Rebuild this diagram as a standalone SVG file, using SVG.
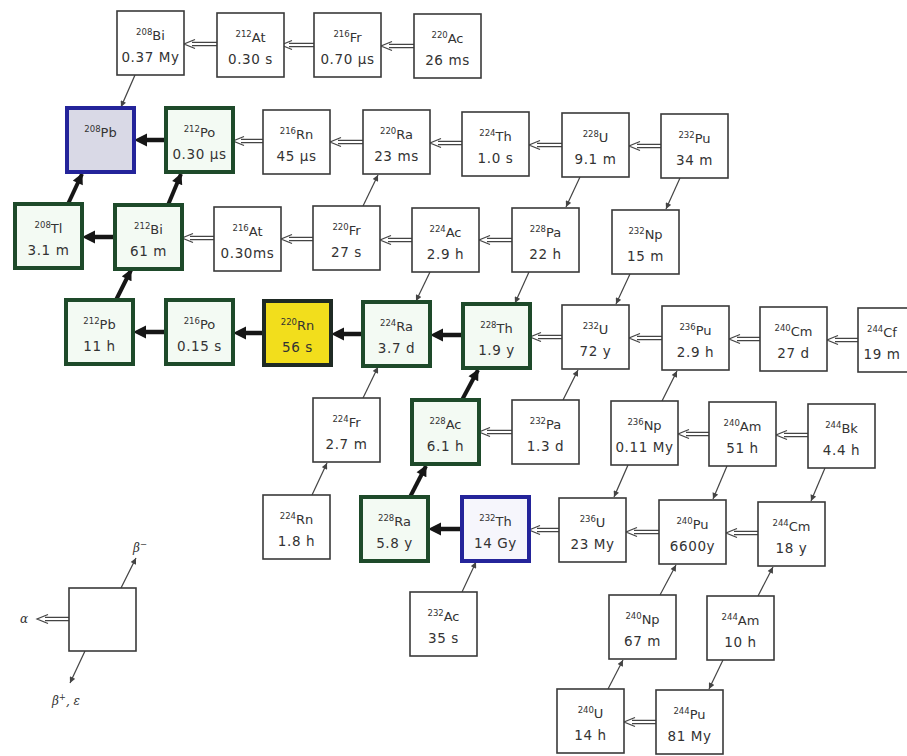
<svg xmlns="http://www.w3.org/2000/svg" width="907" height="756" viewBox="0 0 907 756">
<style>
rect{fill:#fff;stroke:#3a3a3a;stroke-width:1.6}
.g rect{fill:#f3faf3;stroke:#1e4a2a;stroke-width:4}
.b rect{fill:#f6f6fc;stroke:#24249a;stroke-width:4}
.pb rect{fill:#d9d9e6}
.y rect{fill:#f2de1c;stroke:#1f2a24;stroke-width:4}
text{font-family:"DejaVu Sans","Liberation Sans",sans-serif;fill:#333;text-anchor:middle}
.s{font-size:13px}
.h{font-size:13.5px;letter-spacing:0.6px}
.m{font-size:8.5px}
.at{fill:none;stroke:#444;stroke-width:1.2}
.ak{stroke:#161616;stroke-width:4.5}
.akh{fill:#161616}
.bt{stroke:#444;stroke-width:1.2;marker-end:url(#hb)}
.bk{stroke:#161616;stroke-width:4;marker-end:url(#hk)}
.lg{font-size:12px;font-family:"DejaVu Serif",serif;font-style:italic}
</style>
<defs>
<marker id="hb" viewBox="0 0 10 10" refX="10" refY="5" markerWidth="8" markerHeight="6" markerUnits="userSpaceOnUse" orient="auto"><path d="M0 0L10 5L0 10z" fill="#444"/></marker>
<marker id="hk" viewBox="0 0 10 10" refX="9" refY="5" markerWidth="12" markerHeight="11" markerUnits="userSpaceOnUse" orient="auto"><path d="M0 0L10 5L0 10z" fill="#161616"/></marker>
</defs>

<g id="connectors">
<!-- alpha thin -->
<path class="at" d="M217 42.4H192M217 45.6H192M195 39.5L184 44L195 48.5"/>
<path class="at" d="M314 43.4H289M314 46.6H289M292 40.5L281 45L292 49.5"/>
<path class="at" d="M414 44.4H389M414 47.6H389M392 41.5L381 46L392 50.5"/>
<path class="at" d="M263 139.4H241M263 142.6H241M244 136.5L233 141L244 145.5"/>
<path class="at" d="M363 140.4H338M363 143.6H338M341 137.5L330 142L341 146.5"/>
<path class="at" d="M462 141.4H438M462 144.6H438M441 138.5L430 143L441 147.5"/>
<path class="at" d="M562 143.4H537M562 146.6H537M540 140.5L529 145L540 149.5"/>
<path class="at" d="M661 144.4H637M661 147.6H637M640 141.5L629 146L640 150.5"/>
<path class="at" d="M214 236.4H190M214 239.6H190M193 233.5L182 238L193 242.5"/>
<path class="at" d="M313 237.4H289M313 240.6H289M292 234.5L281 239L292 243.5"/>
<path class="at" d="M412 238.4H388M412 241.6H388M391 235.5L380 240L391 244.5"/>
<path class="at" d="M512 238.4H487M512 241.6H487M490 235.5L479 240L490 244.5"/>
<path class="at" d="M562 335.4H538M562 338.6H538M541 332.5L530 337L541 341.5"/>
<path class="at" d="M662 336.4H637M662 339.6H637M640 333.5L629 338L640 342.5"/>
<path class="at" d="M760 337.4H737M760 340.6H737M740 334.5L729 339L740 343.5"/>
<path class="at" d="M858 338.4H835M858 341.6H835M838 335.5L827 340L838 344.5"/>
<path class="at" d="M512 430.4H487M512 433.6H487M490 427.5L479 432L490 436.5"/>
<path class="at" d="M709 432.4H686M709 435.6H686M689 429.5L678 434L689 438.5"/>
<path class="at" d="M808 433.4H784M808 436.6H784M787 430.5L776 435L787 439.5"/>
<path class="at" d="M559 528.4H537M559 531.6H537M540 525.5L529 530L540 534.5"/>
<path class="at" d="M659 530.4H634M659 533.6H634M637 527.5L626 532L637 536.5"/>
<path class="at" d="M758 531.4H734M758 534.6H734M737 528.5L726 533L737 537.5"/>
<path class="at" d="M656 720.4H632M656 723.6H632M635 717.5L624 722L635 726.5"/>
<path class="at" d="M69 617.4H45M69 620.6H45M48 614.5L37 619L48 623.5"/>
<!-- alpha thick -->
<line class="ak" x1="166" y1="140" x2="144" y2="140"/><path class="akh" d="M134 140L147 133.5L147 146.5z"/>
<line class="ak" x1="115" y1="237" x2="92" y2="237"/><path class="akh" d="M82 237L95 230.5L95 243.5z"/>
<line class="ak" x1="166" y1="332" x2="143" y2="332"/><path class="akh" d="M133 332L146 325.5L146 338.5z"/>
<line class="ak" x1="264" y1="333" x2="243" y2="333"/><path class="akh" d="M233 333L246 326.5L246 339.5z"/>
<line class="ak" x1="363" y1="334" x2="341" y2="334"/><path class="akh" d="M331 334L344 327.5L344 340.5z"/>
<line class="ak" x1="463" y1="335" x2="440" y2="335"/><path class="akh" d="M430 335L443 328.5L443 341.5z"/>
<line class="ak" x1="462" y1="529" x2="438" y2="529"/><path class="akh" d="M428 529L441 522.5L441 535.5z"/>
<!-- beta- thick -->
<line class="bk" x1="68" y1="204" x2="82" y2="174"/>
<line class="bk" x1="168" y1="205" x2="181" y2="174"/>
<line class="bk" x1="116" y1="300" x2="131" y2="270"/>
<line class="bk" x1="462" y1="400" x2="478" y2="370"/>
<line class="bk" x1="410" y1="497" x2="426" y2="466"/>
<!-- beta- thin -->
<line class="bt" x1="363" y1="206" x2="378" y2="175"/>
<line class="bt" x1="363" y1="398" x2="378" y2="367"/>
<line class="bt" x1="563" y1="400" x2="578" y2="370"/>
<line class="bt" x1="662" y1="401" x2="677" y2="371"/>
<line class="bt" x1="312" y1="495" x2="327" y2="463"/>
<line class="bt" x1="462" y1="592" x2="476" y2="562"/>
<line class="bt" x1="660" y1="595" x2="676" y2="565"/>
<line class="bt" x1="758" y1="596" x2="773" y2="567"/>
<line class="bt" x1="608" y1="689" x2="623" y2="660"/>
<line class="bt" x1="121" y1="588" x2="136" y2="558"/>
<!-- beta+ / EC -->
<line class="bt" x1="135" y1="75" x2="121" y2="107"/>
<line class="bt" x1="580" y1="177" x2="566" y2="207"/>
<line class="bt" x1="680" y1="178" x2="666" y2="209"/>
<line class="bt" x1="430" y1="272" x2="416" y2="301"/>
<line class="bt" x1="529" y1="272" x2="515" y2="303"/>
<line class="bt" x1="630" y1="274" x2="616" y2="304"/>
<line class="bt" x1="628" y1="465" x2="614" y2="497"/>
<line class="bt" x1="727" y1="466" x2="713" y2="499"/>
<line class="bt" x1="825" y1="468" x2="811" y2="501"/>
<line class="bt" x1="723" y1="660" x2="709" y2="689"/>
<line class="bt" x1="85" y1="651" x2="70" y2="683"/>
</g>

<!-- row 1 -->
<g id="Bi208"><rect x="117" y="11" width="67" height="64"/><text class="s" x="150.5" y="40"><tspan class="m" dy="-5">208</tspan><tspan dy="5">Bi</tspan></text><text class="h" x="150.5" y="62">0.37 My</text></g>
<g id="At212"><rect x="217" y="13" width="67" height="64"/><text class="s" x="250.5" y="42"><tspan class="m" dy="-5">212</tspan><tspan dy="5">At</tspan></text><text class="h" x="250.5" y="64">0.30 s</text></g>
<g id="Fr216"><rect x="314" y="13" width="67" height="64"/><text class="s" x="347.5" y="42"><tspan class="m" dy="-5">216</tspan><tspan dy="5">Fr</tspan></text><text class="h" x="347.5" y="64">0.70 μs</text></g>
<g id="Ac220"><rect x="414" y="14" width="67" height="64"/><text class="s" x="447.5" y="43"><tspan class="m" dy="-5">220</tspan><tspan dy="5">Ac</tspan></text><text class="h" x="447.5" y="65">26 ms</text></g>
<!-- row 2 -->
<g id="Pb208" class="b pb"><rect x="67" y="108" width="67" height="64"/><text class="s" x="100.5" y="137"><tspan class="m" dy="-5">208</tspan><tspan dy="5">Pb</tspan></text></g>
<g id="Po212" class="g"><rect x="166" y="108" width="67" height="64"/><text class="s" x="199.5" y="137"><tspan class="m" dy="-5">212</tspan><tspan dy="5">Po</tspan></text><text class="h" x="199.5" y="159">0.30 μs</text></g>
<g id="Rn216"><rect x="263" y="110" width="67" height="64"/><text class="s" x="296.5" y="139"><tspan class="m" dy="-5">216</tspan><tspan dy="5">Rn</tspan></text><text class="h" x="296.5" y="161">45 μs</text></g>
<g id="Ra220"><rect x="363" y="110" width="67" height="64"/><text class="s" x="396.5" y="139"><tspan class="m" dy="-5">220</tspan><tspan dy="5">Ra</tspan></text><text class="h" x="396.5" y="161">23 ms</text></g>
<g id="Th224"><rect x="462" y="112" width="67" height="64"/><text class="s" x="495.5" y="141"><tspan class="m" dy="-5">224</tspan><tspan dy="5">Th</tspan></text><text class="h" x="495.5" y="163">1.0 s</text></g>
<g id="U228"><rect x="562" y="113" width="67" height="64"/><text class="s" x="595.5" y="142"><tspan class="m" dy="-5">228</tspan><tspan dy="5">U</tspan></text><text class="h" x="595.5" y="164">9.1 m</text></g>
<g id="Pu232a"><rect x="661" y="114" width="67" height="64"/><text class="s" x="694.5" y="143"><tspan class="m" dy="-5">232</tspan><tspan dy="5">Pu</tspan></text><text class="h" x="694.5" y="165">34 m</text></g>
<!-- row 3 -->
<g id="Tl208" class="g"><rect x="15" y="204" width="67" height="64"/><text class="s" x="48.5" y="233"><tspan class="m" dy="-5">208</tspan><tspan dy="5">Tl</tspan></text><text class="h" x="48.5" y="255">3.1 m</text></g>
<g id="Bi212" class="g"><rect x="115" y="205" width="67" height="64"/><text class="s" x="148.5" y="234"><tspan class="m" dy="-5">212</tspan><tspan dy="5">Bi</tspan></text><text class="h" x="148.5" y="256">61 m</text></g>
<g id="At216"><rect x="214" y="207" width="67" height="64"/><text class="s" x="247.5" y="236"><tspan class="m" dy="-5">216</tspan><tspan dy="5">At</tspan></text><text class="h" x="247.5" y="258">0.30ms</text></g>
<g id="Fr220"><rect x="313" y="206" width="67" height="64"/><text class="s" x="346.5" y="235"><tspan class="m" dy="-5">220</tspan><tspan dy="5">Fr</tspan></text><text class="h" x="346.5" y="257">27 s</text></g>
<g id="Ac224"><rect x="412" y="208" width="67" height="64"/><text class="s" x="445.5" y="237"><tspan class="m" dy="-5">224</tspan><tspan dy="5">Ac</tspan></text><text class="h" x="445.5" y="259">2.9 h</text></g>
<g id="Pa228"><rect x="512" y="208" width="67" height="64"/><text class="s" x="545.5" y="237"><tspan class="m" dy="-5">228</tspan><tspan dy="5">Pa</tspan></text><text class="h" x="545.5" y="259">22 h</text></g>
<g id="Np232"><rect x="612" y="210" width="67" height="64"/><text class="s" x="645.5" y="239"><tspan class="m" dy="-5">232</tspan><tspan dy="5">Np</tspan></text><text class="h" x="645.5" y="261">15 m</text></g>
<!-- row 4 -->
<g id="Pb212" class="g"><rect x="66" y="300" width="67" height="64"/><text class="s" x="99.5" y="329"><tspan class="m" dy="-5">212</tspan><tspan dy="5">Pb</tspan></text><text class="h" x="99.5" y="351">11 h</text></g>
<g id="Po216" class="g"><rect x="166" y="300" width="67" height="64"/><text class="s" x="199.5" y="329"><tspan class="m" dy="-5">216</tspan><tspan dy="5">Po</tspan></text><text class="h" x="199.5" y="351">0.15 s</text></g>
<g id="Rn220" class="y"><rect x="264" y="301" width="67" height="64"/><text class="s" x="297.5" y="330"><tspan class="m" dy="-5">220</tspan><tspan dy="5">Rn</tspan></text><text class="h" x="297.5" y="352">56 s</text></g>
<g id="Ra224" class="g"><rect x="363" y="302" width="67" height="64"/><text class="s" x="396.5" y="331"><tspan class="m" dy="-5">224</tspan><tspan dy="5">Ra</tspan></text><text class="h" x="396.5" y="353">3.7 d</text></g>
<g id="Th228" class="g"><rect x="463" y="304" width="67" height="64"/><text class="s" x="496.5" y="333"><tspan class="m" dy="-5">228</tspan><tspan dy="5">Th</tspan></text><text class="h" x="496.5" y="355">1.9 y</text></g>
<g id="U232"><rect x="562" y="305" width="67" height="64"/><text class="s" x="595.5" y="334"><tspan class="m" dy="-5">232</tspan><tspan dy="5">U</tspan></text><text class="h" x="595.5" y="356">72 y</text></g>
<g id="Pu236"><rect x="662" y="306" width="67" height="64"/><text class="s" x="695.5" y="335"><tspan class="m" dy="-5">236</tspan><tspan dy="5">Pu</tspan></text><text class="h" x="695.5" y="357">2.9 h</text></g>
<g id="Cm240"><rect x="760" y="307" width="67" height="64"/><text class="s" x="793.5" y="336"><tspan class="m" dy="-5">240</tspan><tspan dy="5">Cm</tspan></text><text class="h" x="793.5" y="358">27 d</text></g>
<g id="Cf244"><rect x="858" y="308" width="67" height="64"/><text class="s" x="882" y="337"><tspan class="m" dy="-5">244</tspan><tspan dy="5">Cf</tspan></text><text class="h" x="882" y="359">19 m</text></g>
<!-- row 5 -->
<g id="Fr224"><rect x="313" y="398" width="67" height="64"/><text class="s" x="346.5" y="427"><tspan class="m" dy="-5">224</tspan><tspan dy="5">Fr</tspan></text><text class="h" x="346.5" y="449">2.7 m</text></g>
<g id="Ac228" class="g"><rect x="412" y="400" width="67" height="64"/><text class="s" x="445.5" y="429"><tspan class="m" dy="-5">228</tspan><tspan dy="5">Ac</tspan></text><text class="h" x="445.5" y="451">6.1 h</text></g>
<g id="Pa232"><rect x="512" y="400" width="67" height="64"/><text class="s" x="545.5" y="429"><tspan class="m" dy="-5">232</tspan><tspan dy="5">Pa</tspan></text><text class="h" x="545.5" y="451">1.3 d</text></g>
<g id="Np236"><rect x="611" y="401" width="67" height="64"/><text class="s" x="644.5" y="430"><tspan class="m" dy="-5">236</tspan><tspan dy="5">Np</tspan></text><text class="h" x="644.5" y="452">0.11 My</text></g>
<g id="Am240"><rect x="709" y="402" width="67" height="64"/><text class="s" x="742.5" y="431"><tspan class="m" dy="-5">240</tspan><tspan dy="5">Am</tspan></text><text class="h" x="742.5" y="453">51 h</text></g>
<g id="Bk244"><rect x="808" y="404" width="67" height="64"/><text class="s" x="841.5" y="433"><tspan class="m" dy="-5">244</tspan><tspan dy="5">Bk</tspan></text><text class="h" x="841.5" y="455">4.4 h</text></g>
<!-- row 6 -->
<g id="Rn224"><rect x="263" y="495" width="67" height="64"/><text class="s" x="296.5" y="524"><tspan class="m" dy="-5">224</tspan><tspan dy="5">Rn</tspan></text><text class="h" x="296.5" y="546">1.8 h</text></g>
<g id="Ra228" class="g"><rect x="361" y="497" width="67" height="64"/><text class="s" x="394.5" y="526"><tspan class="m" dy="-5">228</tspan><tspan dy="5">Ra</tspan></text><text class="h" x="394.5" y="548">5.8 y</text></g>
<g id="Th232" class="b"><rect x="462" y="497" width="67" height="64"/><text class="s" x="495.5" y="526"><tspan class="m" dy="-5">232</tspan><tspan dy="5">Th</tspan></text><text class="h" x="495.5" y="548">14 Gy</text></g>
<g id="U236"><rect x="559" y="498" width="67" height="64"/><text class="s" x="592.5" y="527"><tspan class="m" dy="-5">236</tspan><tspan dy="5">U</tspan></text><text class="h" x="592.5" y="549">23 My</text></g>
<g id="Pu240"><rect x="659" y="500" width="67" height="64"/><text class="s" x="692.5" y="529"><tspan class="m" dy="-5">240</tspan><tspan dy="5">Pu</tspan></text><text class="h" x="692.5" y="551">6600y</text></g>
<g id="Cm244"><rect x="758" y="502" width="67" height="64"/><text class="s" x="791.5" y="531"><tspan class="m" dy="-5">244</tspan><tspan dy="5">Cm</tspan></text><text class="h" x="791.5" y="553">18 y</text></g>
<!-- row 7 -->
<g id="Ac232"><rect x="410" y="592" width="67" height="64"/><text class="s" x="443.5" y="621"><tspan class="m" dy="-5">232</tspan><tspan dy="5">Ac</tspan></text><text class="h" x="443.5" y="643">35 s</text></g>
<g id="Np240"><rect x="609" y="595" width="67" height="64"/><text class="s" x="642.5" y="624"><tspan class="m" dy="-5">240</tspan><tspan dy="5">Np</tspan></text><text class="h" x="642.5" y="646">67 m</text></g>
<g id="Am244"><rect x="707" y="596" width="67" height="64"/><text class="s" x="740.5" y="625"><tspan class="m" dy="-5">244</tspan><tspan dy="5">Am</tspan></text><text class="h" x="740.5" y="647">10 h</text></g>
<!-- row 8 -->
<g id="U240"><rect x="557" y="689" width="67" height="64"/><text class="s" x="590.5" y="718"><tspan class="m" dy="-5">240</tspan><tspan dy="5">U</tspan></text><text class="h" x="590.5" y="740">14 h</text></g>
<g id="Pu244"><rect x="656" y="690" width="67" height="64"/><text class="s" x="689.5" y="719"><tspan class="m" dy="-5">244</tspan><tspan dy="5">Pu</tspan></text><text class="h" x="689.5" y="741">81 My</text></g>
<!-- legend -->
<g id="legend"><rect x="69" y="588" width="67" height="63"/><text class="lg" x="24" y="623">α</text><text class="lg" x="140" y="552">β<tspan class="m" dy="-5">−</tspan></text><text class="lg" x="66" y="705">β<tspan class="m" dy="-5">+</tspan><tspan dy="5">, ε</tspan></text></g>
</svg>
